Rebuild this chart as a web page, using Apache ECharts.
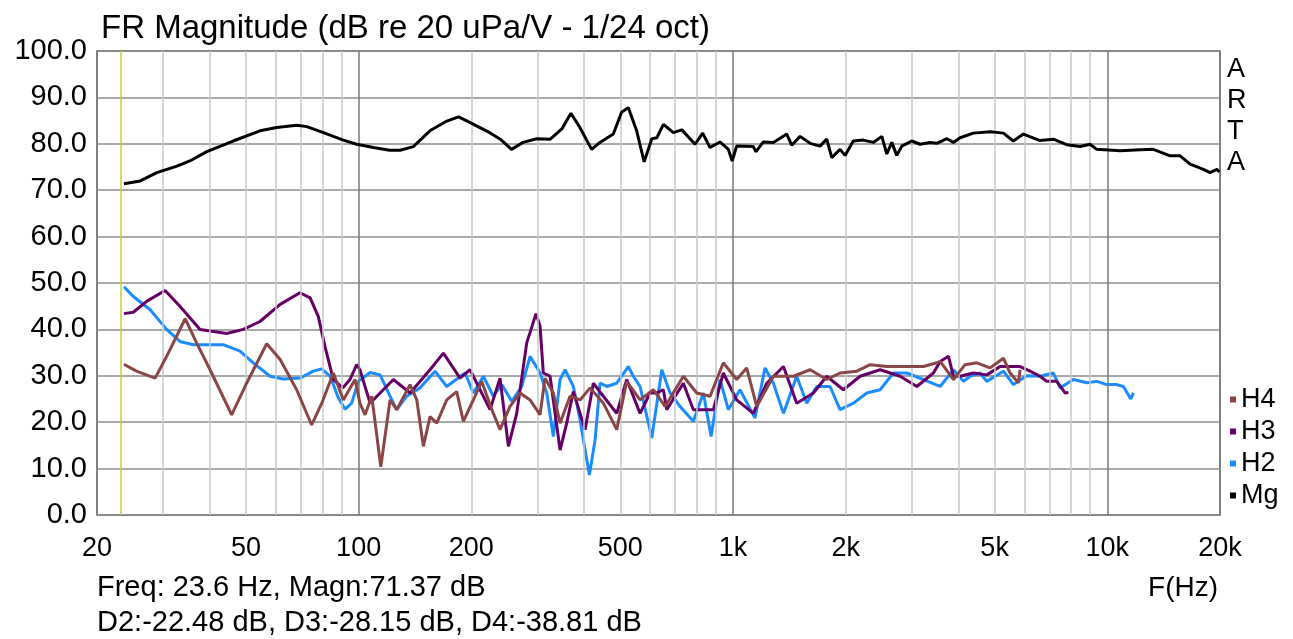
<!DOCTYPE html>
<html>
<head>
<meta charset="utf-8">
<script src="https://cdn.jsdelivr.net/npm/echarts@6/dist/echarts.min.js"></script>
<style>
html,body{margin:0;padding:0;background:#fff;}
#chart{width:1293px;height:639px;}
</style>
</head>
<body>
<div id="chart"></div>
<script>
// ---- Data (frequency Hz, level dB) ----
const xTickLabels = [20, 50, 100, 200, 500, 1000, 2000, 5000, 10000, 20000];
const yTickLabels = [0, 10, 20, 30, 40, 50, 60, 70, 80, 90, 100];
const minorGridFreqs = [30,40,50,60,70,80,90,200,300,400,500,600,700,800,900,2000,3000,4000,5000,6000,7000,8000,9000];
const majorGridFreqs = [100, 1000, 10000];
const cursorFreq = 23.2;

const seriesNames = ['H4', 'H3', 'H2', 'Mg'];

const mg = [[23.6,71.4],[26.1,72.0],[28.9,73.8],[32.7,75.2],[35.4,76.3],[39.3,78.3],[46.2,80.6],[54.5,82.8],[60.4,83.5],[68.3,84.0],[72.7,83.7],[80.5,82.4],[91,80.8],[98.8,79.9],[109.5,79.2],[121,78.6],[129,78.6],[140,79.4],[155,82.8],[172,84.9],[185,85.8],[198,84.6],[224,82.4],[239,81.0],[256,78.8],[275,80.3],[299,81.1],[325,81.0],[349,83.2],[369,86.6],[390,83.5],[419,78.8],[441,80.3],[479,82.1],[504,86.8],[525,87.8],[553,82.8],[579,76.1],[607,81.1],[626,81.3],[652,84.2],[693,82.4],[730,83.0],[792,79.9],[830,82.3],[868,79.2],[923,80.4],[972,78.8],[995,76.3],[1023,79.5],[1133,79.4],[1152,78.3],[1205,80.4],[1282,80.3],[1392,82.1],[1435,79.7],[1511,81.6],[1607,80.1],[1708,79.5],[1780,81.0],[1836,77.0],[1932,78.8],[1993,77.5],[2096,80.6],[2230,80.8],[2371,80.3],[2498,81.6],[2576,77.8],[2656,80.3],[2738,77.5],[2825,79.5],[3004,80.6],[3162,79.9],[3362,80.3],[3504,80.1],[3726,81.1],[3880,80.3],[4044,81.3],[4388,82.3],[4864,82.6],[5278,82.3],[5610,80.6],[5966,82.1],[6612,80.7],[7174,81.0],[7792,79.8],[8458,79.4],[8994,79.9],[9372,78.8],[10818,78.5],[12234,78.7],[13274,78.8],[14712,77.4],[15648,77.4],[16640,75.6],[18056,74.5],[18820,73.8],[19608,74.5],[19920,73.9]];

const h2 = [[23.6,49.2],[25.0,47.1],[27.7,44.3],[30.7,40.0],[33.3,37.4],[36.2,36.7],[43.5,36.7],[48.2,35.3],[52.3,32.8],[58.0,29.9],[62.9,29.3],[69.7,29.5],[75.7,31.0],[79.7,31.5],[83.9,29.9],[88.3,25.2],[92.0,22.8],[95.8,24.1],[99.8,28.8],[107.3,30.7],[114.1,30.2],[121.3,25.6],[126.4,22.7],[134.4,25.6],[145.9,27.4],[160,31.0],[171.9,27.7],[192.4,30.6],[202.5,26.3],[215.4,29.9],[229,25.6],[241.2,28.1],[256.4,24.5],[272.8,27.7],[287,34.2],[305.2,30.6],[318,26.3],[331.2,16.9],[345.2,29.2],[356,31.3],[374.6,27.7],[390.4,20.5],[413.4,8.6],[428.2,16.2],[441.4,28.4],[460.2,27.7],[489.2,28.4],[525.4,32.0],[541.8,29.9],[564.6,27.7],[606.8,16.6],[645.4,31.3],[679,26.3],[722,23.4],[783.6,20.2],[833.6,26.3],[874,16.9],[923.4,29.2],[971.8,22.7],[1044,27.0],[1145,20.9],[1218,31.7],[1282,28.4],[1364,21.9],[1480,29.9],[1574,24.1],[1674,27.7],[1817,27.7],[1932,22.7],[2098,24.1],[2278,26.3],[2472,27.0],[2682,30.6],[2912,30.6],[3226,29.2],[3576,27.7],[3882,31.3],[4128,28.8],[4300,29.9],[4572,30.6],[4764,28.8],[5278,31.0],[5612,28.1],[6092,30.0],[6612,29.9],[7176,30.6],[7478,27.4],[8118,29.2],[8816,28.5],[9374,28.8],[9968,28.1],[10600,28.1],[11040,27.7],[11554,25.0],[11740,26.3]];

const h3 = [[23.6,43.4],[25.0,43.7],[27.2,46.1],[30.4,48.4],[33.3,45.0],[37.7,40.0],[44.4,39.1],[49.2,40.0],[54.5,41.7],[61.7,45.4],[69.7,47.9],[74.2,46.8],[78.0,42.8],[81.3,36.3],[85.6,29.2],[90.7,27.4],[94.8,29.2],[98.8,32.4],[100.8,31.3],[107.3,24.1],[114.1,26.3],[123.8,29.2],[137.2,26.3],[155.1,31.3],[168.4,34.9],[186.6,29.5],[198.4,31.3],[211,27.0],[224.4,22.7],[238.6,29.5],[251.2,14.8],[264.4,21.9],[281.2,37.1],[297.8,43.4],[305.2,40.7],[311.4,30.6],[324.6,29.9],[345.2,14.0],[359.6,19.8],[374.6,26.6],[402.6,18.4],[423.6,28.4],[450.6,25.6],[489.2,21.9],[520.2,29.2],[564.6,21.9],[600.4,26.3],[625.8,26.3],[651.6,27.0],[665.4,22.7],[737,28.4],[783.6,22.7],[886.4,22.7],[942.4,30.6],[1023,24.8],[1133,21.9],[1231,28.4],[1364,32.0],[1480,24.1],[1640,26.3],[1780,29.9],[1972,27.0],[2186,29.9],[2472,31.3],[2796,29.9],[3098,27.7],[3432,30.6],[3576,33.1],[3764,34.2],[3882,29.9],[4044,29.9],[4388,30.6],[4764,30.2],[5172,32.0],[5848,32.0],[6218,31.0],[6612,29.9],[6892,28.8],[7328,28.8],[7712,26.3],[7872,26.4]];

const h4 = [[23.6,32.5],[25.5,31.0],[28.6,29.5],[30.7,34.2],[34.4,42.3],[36.9,37.1],[40.1,31.3],[45.8,21.6],[50.2,28.4],[56.8,36.9],[61.7,33.5],[68.3,27.0],[74.9,19.4],[79.7,24.1],[85.6,30.6],[91.0,24.8],[97.8,29.2],[100.8,24.1],[104,21.6],[108.4,25.6],[114.6,10.4],[121.3,24.8],[126.4,22.7],[137.2,28.1],[143,24.8],[148.9,14.8],[155.1,21.2],[161.7,19.8],[171.9,24.8],[182.8,26.6],[190.4,20.2],[202.5,24.8],[213.2,28.8],[226.8,22.7],[238.6,18.4],[253.8,23.4],[269.8,26.3],[287,24.8],[305.2,21.6],[314.6,29.5],[331.2,26.3],[345.2,19.8],[367,25.6],[390.4,24.8],[415.2,27.4],[450.6,24.1],[489.2,18.4],[520.2,28.8],[564.6,24.8],[612.8,27.0],[658.6,23.4],[737,29.9],[800.2,26.3],[868.6,25.6],[942.4,32.8],[1023,29.2],[1088,31.7],[1157,23.4],[1282,29.9],[1450,29.9],[1607,31.3],[1780,29.2],[1932,30.6],[2142,31.0],[2324,32.4],[2576,32.0],[2912,32.0],[3226,32.0],[3504,32.8],[3576,33.1],[3882,29.2],[4168,32.4],[4480,32.8],[4862,31.7],[5278,33.8],[5500,30.6],[5786,28.5],[5848,31.3]];

const titleText = 'FR Magnitude (dB re 20 uPa/V - 1/24 oct)';
const infoLine1 = 'Freq: 23.6 Hz, Magn:71.37 dB';
const infoLine2 = 'D2:-22.48 dB, D3:-28.15 dB, D4:-38.81 dB';
const xAxisName = 'F(Hz)';
const sideText = ['A', 'R', 'T', 'A'];

// ---- Chart ----
const FONT = '"Liberation Sans", Arial, sans-serif';
const colors = { Mg: '#000000', H2: '#1a8cff', H3: '#660066', H4: '#8a4646' };
const chart = echarts.init(document.getElementById('chart'), null, { renderer: 'canvas' });

function fmtFreq(v) { return v >= 1000 ? (v / 1000) + 'k' : String(v); }

const gridLines = [];
minorGridFreqs.forEach(f => gridLines.push({ xAxis: f, lineStyle: { color: '#c8c8c8', width: 1.5, type: 'solid' } }));
majorGridFreqs.forEach(f => gridLines.push({ xAxis: f, lineStyle: { color: '#7a7a7a', width: 1.5, type: 'solid' } }));
gridLines.push({ xAxis: cursorFreq, lineStyle: { color: '#cccc33', width: 1.5, type: 'solid' } });

function lineSeries(name, data, z) {
  return {
    name: name, type: 'line', data: data, showSymbol: false, symbol: 'none',
    lineStyle: { color: colors[name], width: 3 }, itemStyle: { color: colors[name] },
    z: z, animation: false, silent: true
  };
}

const option = {
  animation: false,
  backgroundColor: '#ffffff',
  textStyle: { fontFamily: FONT },
  title: {
    text: titleText, left: 96, top: 7,
    textStyle: { fontFamily: FONT, fontSize: 33, fontWeight: 'normal', color: '#000' }
  },
  grid: { left: 97, right: 73, top: 51, bottom: 124, show: true, borderColor: '#555555', borderWidth: 1.5, backgroundColor: 'transparent' },
  legend: {
    data: seriesNames, orient: 'vertical', left: 1225, top: 381,
    icon: 'rect', itemWidth: 6, itemHeight: 6, itemGap: 5,
    textStyle: { fontFamily: FONT, fontSize: 27, color: '#000' },
    selectedMode: false
  },
  xAxis: {
    type: 'log', logBase: 10, min: 20, max: 20000,
    axisLine: { show: false }, axisTick: { show: false }, splitLine: { show: false }, minorSplitLine: { show: false },
    axisLabel: { customValues: xTickLabels, formatter: fmtFreq, fontFamily: FONT, fontSize: 27, color: '#000', margin: 20 }
  },
  yAxis: {
    type: 'value', min: 0, max: 100, interval: 10,
    axisLine: { show: false }, axisTick: { show: false },
    splitLine: { show: true, lineStyle: { color: '#8c8c8c', width: 1.5 } },
    axisLabel: { formatter: v => v.toFixed(1), fontFamily: FONT, fontSize: 29, color: '#000', margin: 10 }
  },
  graphic: [
    { type: 'text', left: 97, top: 573, style: { text: infoLine1, font: '29px ' + FONT, fill: '#000' } },
    { type: 'text', left: 97, top: 608, style: { text: infoLine2, font: '29px ' + FONT, fill: '#000' } },
    { type: 'text', right: 75, top: 574, style: { text: xAxisName, font: '28px ' + FONT, fill: '#000' } },
    { type: 'text', left: 1227, top: 54, style: { text: sideText.join('\n'), font: '27px ' + FONT, fill: '#000', lineHeight: 31 } }
  ],
  series: [
    { name: 'grid', type: 'line', data: [], silent: true, z: 1,
      markLine: { silent: true, symbol: ['none', 'none'], label: { show: false }, animation: false, data: gridLines } },
    lineSeries('H2', h2, 3),
    lineSeries('H3', h3, 4),
    lineSeries('H4', h4, 5),
    lineSeries('Mg', mg, 6)
  ]
};
chart.setOption(option);
</script>
</body>
</html>
